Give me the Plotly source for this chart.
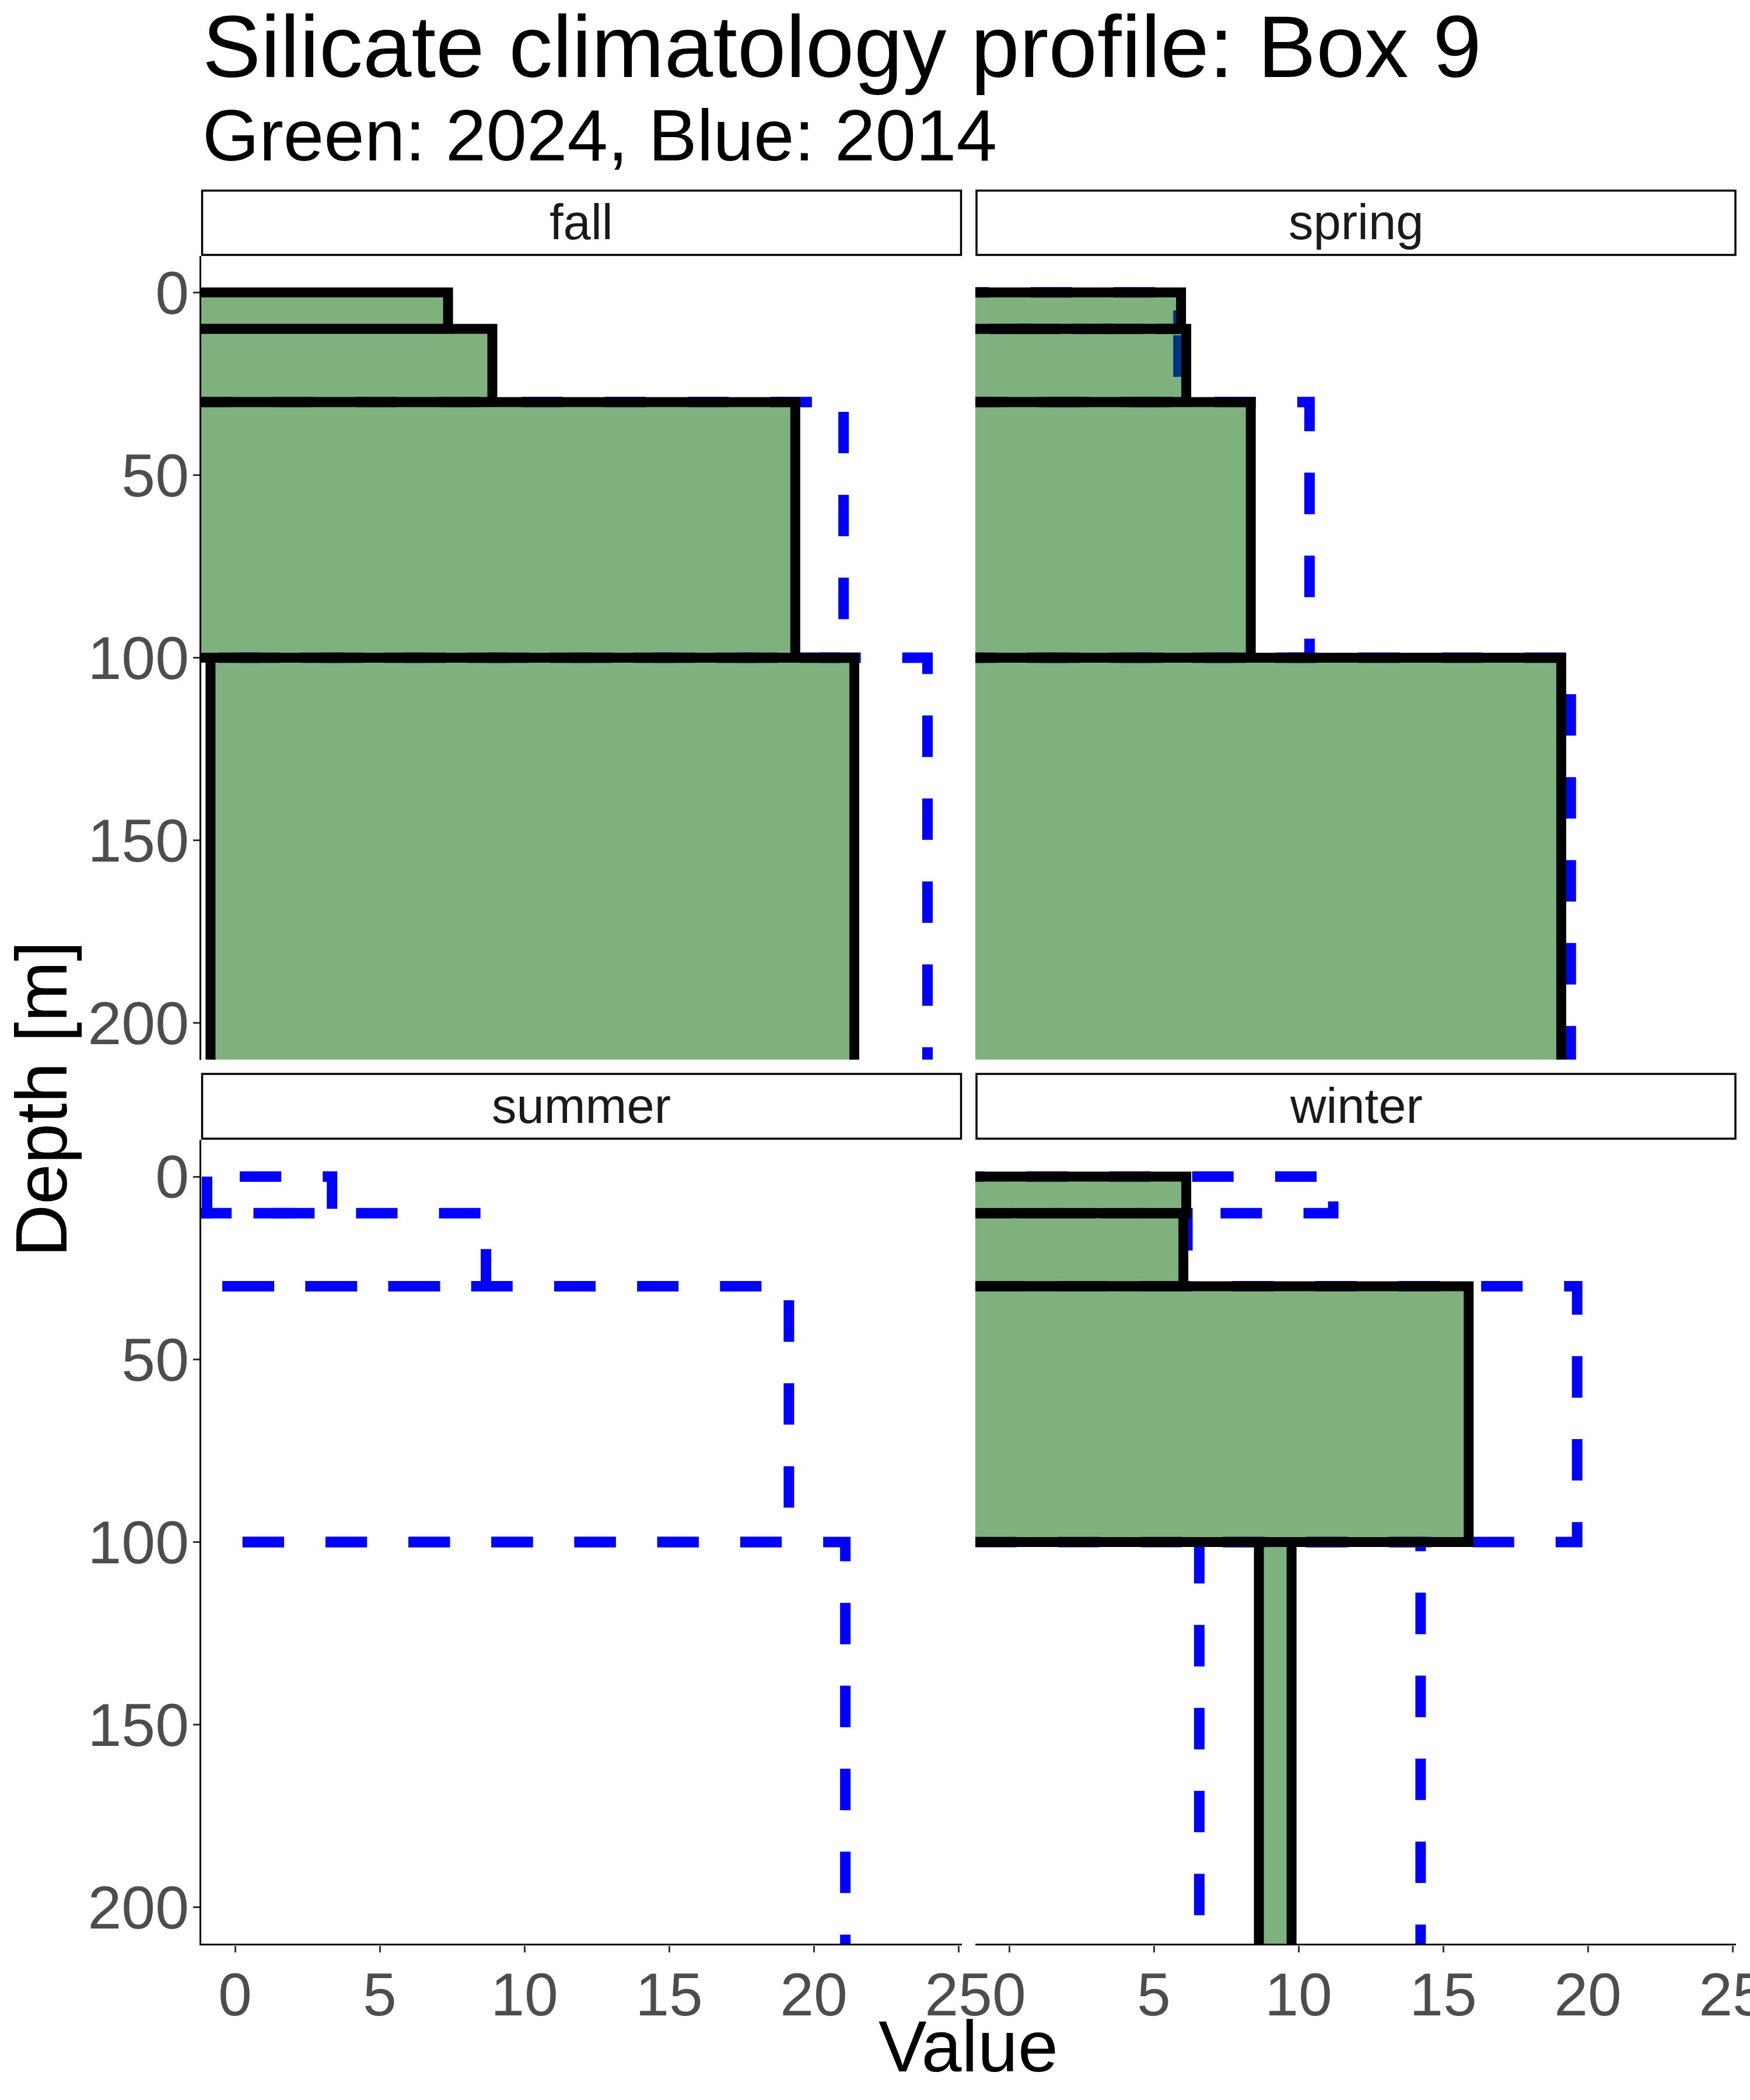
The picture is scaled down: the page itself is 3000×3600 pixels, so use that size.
import plotly.graph_objects as go

W, H = 3000, 3600

# ---------------- data ----------------
seasons = ["fall", "spring", "summer", "winter"]
depth_top = [0, 10, 30, 100]
depth_bottom = [10, 30, 100, 298]
x_ticks = [0, 5, 10, 15, 20, 25]
y_ticks = [0, 50, 100, 150, 200]

# 2024 (green) layer bounds
fall_2024_xmin = [-3.0, -2.5, -1.8, -0.85]
fall_2024_xmax = [7.36, 8.89, 19.36, 21.40]
spring_2024_xmin = [-2.5, -2.0, -1.6, -2.8]
spring_2024_xmax = [5.94, 6.12, 8.35, 19.08]
summer_2024_xmin = [None, None, None, None]
summer_2024_xmax = [None, None, None, None]
winter_2024_xmin = [-2.2, -1.8, -2.6, 8.63]
winter_2024_xmax = [6.12, 6.02, 15.88, 9.76]

# 2014 (blue) layer bounds
fall_2014_xmin = [None, None, -3.20, -4.03]
fall_2014_xmax = [None, None, 21.03, 23.93]
spring_2014_xmin = [-2.28, -2.22, -1.62, -2.08]
spring_2014_xmax = [5.85, 5.85, 10.38, 19.41]
summer_2014_xmin = [-0.97, -3.29, -2.37, -4.11]
summer_2014_xmax = [3.35, 8.67, 19.14, 21.09]
winter_2014_xmin = [-2.90, -1.55, -3.81, 6.57]
winter_2014_xmax = [11.2, 6.16, 19.63, 14.22]

green = {"fall": (fall_2024_xmin, fall_2024_xmax),
         "spring": (spring_2024_xmin, spring_2024_xmax),
         "summer": (summer_2024_xmin, summer_2024_xmax),
         "winter": (winter_2024_xmin, winter_2024_xmax)}
blue = {"fall": (fall_2014_xmin, fall_2014_xmax),
        "spring": (spring_2014_xmin, spring_2014_xmax),
        "summer": (summer_2014_xmin, summer_2014_xmax),
        "winter": (winter_2014_xmin, winter_2014_xmax)}

# ---------------- layout geometry ----------------
FONT = "Liberation Sans"
def fx(p): return p / W
def fy(p): return 1 - p / H

col_px = [(345, 1649), (1672, 2976)]
row_px = [(438.6, 1816.6), (1954.4, 3332.4)]
panel_pos = {"fall": (0, 0), "spring": (1, 0), "summer": (0, 1), "winter": (1, 1)}
axis_id = {"fall": "", "spring": "2", "summer": "3", "winter": "4"}

fig = go.Figure()

def rect_path(x0, x1, d0, d1):
    # start top-left, down the left side, along the bottom, up the right side, back along the top
    return [x0, x0, x1, x1, x0], [d0, d1, d1, d0, d0]

# blue layer first (2014), then green (2024)
for s in seasons:
    a = axis_id[s]
    xmins, xmaxs = blue[s]
    for i in range(len(depth_top)):
        if xmins[i] is None:
            continue
        xs, ys = rect_path(xmins[i], xmaxs[i], depth_top[i], depth_bottom[i])
        fig.add_trace(go.Scatter(x=xs, y=ys, mode="lines", fill="none",
                                 line=dict(color="#0000FF", width=18, dash="71.1px,71.1px",
                                           simplify=False),
                                 xaxis="x" + a, yaxis="y" + a, showlegend=False,
                                 hoverinfo="skip"))
for s in seasons:
    a = axis_id[s]
    xmins, xmaxs = green[s]
    for i in range(len(depth_top)):
        if xmins[i] is None:
            continue
        xs, ys = rect_path(xmins[i], xmaxs[i], depth_top[i], depth_bottom[i])
        fig.add_trace(go.Scatter(x=xs, y=ys, mode="lines", fill="toself",
                                 fillcolor="rgba(0,100,0,0.5)",
                                 line=dict(color="black", width=17, simplify=False),
                                 xaxis="x" + a, yaxis="y" + a, showlegend=False,
                                 hoverinfo="skip"))

layout = dict(width=W, height=H,
              margin=dict(l=0, r=0, t=0, b=0, pad=0, autoexpand=False),
              paper_bgcolor="white", plot_bgcolor="white", showlegend=False)

for s in seasons:
    a = axis_id[s]
    c, r = panel_pos[s]
    xd = [fx(col_px[c][0]), fx(col_px[c][1])]
    yd = [fy(row_px[r][1]), fy(row_px[r][0])]
    bottom = (r == 1)
    left = (c == 0)
    xa = dict(domain=xd, range=[-1.17, 25.12], anchor="y" + a, automargin=False,
              showgrid=False, zeroline=False, tickvals=x_ticks,
              ticktext=[str(v) for v in x_ticks])
    if bottom:
        xa.update(showline=True, linecolor="black", linewidth=3.3,
                  ticks="outside", ticklen=11, tickwidth=3, tickcolor="#333333",
                  tickfont=dict(family=FONT, size=104, color="#4D4D4D"),
                  showticklabels=True, ticklabelstandoff=-16,
                  ticklabeloverflow="allow")
    else:
        xa.update(showline=False, ticks="", showticklabels=False)
    ya = dict(domain=yd, range=[210, -10], anchor="x" + a, automargin=False,
              showgrid=False, zeroline=False, tickvals=y_ticks,
              ticktext=[str(v) for v in y_ticks])
    if left:
        ya.update(showline=True, linecolor="black", linewidth=3.3,
                  ticks="outside", ticklen=11, tickwidth=3, tickcolor="#333333",
                  tickfont=dict(family=FONT, size=104, color="#4D4D4D"),
                  showticklabels=True, ticklabelstandoff=-14,
                  ticklabeloverflow="allow")
    else:
        ya.update(showline=False, ticks="", showticklabels=False)
    layout["xaxis" + a] = xa
    layout["yaxis" + a] = ya

shapes = []
annotations = []
strip_rows = [(326.7, 437.0), (1841.0, 1952.0)]
strip_cols = [(346.5, 1647.5), (1674.0, 2975.0)]
for s in seasons:
    c, r = panel_pos[s]
    x0, x1 = strip_cols[c]
    y0, y1 = strip_rows[r]
    shapes.append(dict(type="rect", xref="paper", yref="paper",
                       x0=fx(x0), x1=fx(x1), y0=fy(y1), y1=fy(y0),
                       line=dict(color="black", width=3.5), fillcolor="white",
                       layer="above"))
    annotations.append(dict(text=s, xref="paper", yref="paper",
                            x=fx((x0 + x1) / 2), y=fy((y0 + y1) / 2 - 1),
                            xanchor="center", yanchor="middle", showarrow=False,
                            font=dict(family=FONT, size=85, color="#1A1A1A")))

annotations.append(dict(text="Silicate climatology profile: Box 9", xref="paper", yref="paper",
                        x=fx(345), y=fy(80), xanchor="left", yanchor="middle",
                        showarrow=False, font=dict(family=FONT, size=150, color="black")))
annotations.append(dict(text="Green: 2024, Blue: 2014", xref="paper", yref="paper",
                        x=fx(345), y=fy(232), xanchor="left", yanchor="middle",
                        showarrow=False, font=dict(family=FONT, size=125, color="black")))
annotations.append(dict(text="Value", xref="paper", yref="paper",
                        x=fx(1660), y=fy(3508), xanchor="center", yanchor="middle",
                        showarrow=False, font=dict(family=FONT, size=124, color="black")))
annotations.append(dict(text="Depth [m]", xref="paper", yref="paper",
                        x=fx(70), y=fy(1884), xanchor="center", yanchor="middle",
                        textangle=-90, showarrow=False,
                        font=dict(family=FONT, size=125, color="black")))

layout["shapes"] = shapes
layout["annotations"] = annotations
fig.update_layout(**layout)
fig.write_html("out.html")
